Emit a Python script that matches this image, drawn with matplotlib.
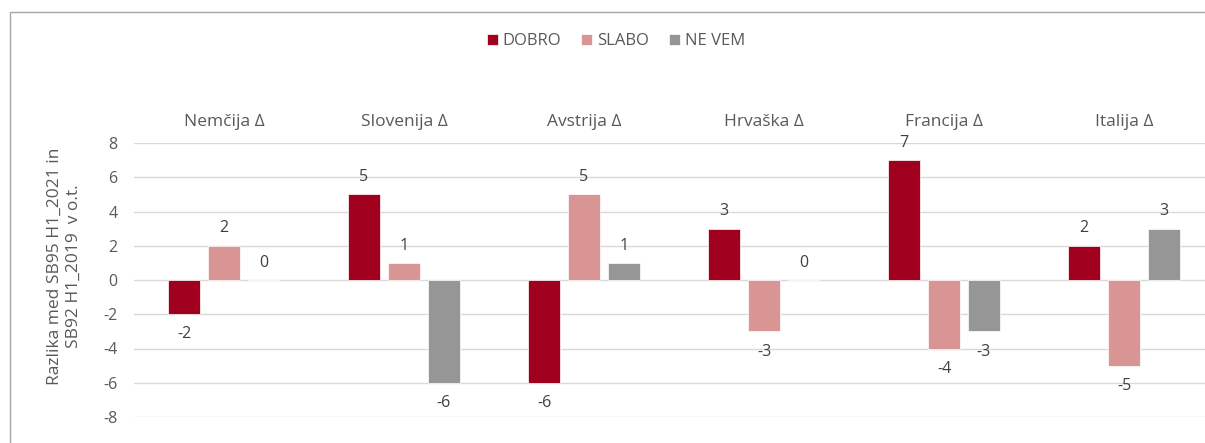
import matplotlib
matplotlib.use("Agg")
import matplotlib.pyplot as plt
from matplotlib.patches import Rectangle
import numpy as np

plt.rcParams['font.family'] = ['Open Sans', 'DejaVu Sans']

categories = ["Nemčija Δ", "Slovenija Δ", "Avstrija Δ", "Hrvaška Δ", "Francija Δ", "Italija Δ"]
series_names = ["DOBRO", "SLABO", "NE VEM"]
dobro = [-2, 5, -6, 3, 7, 2]
slabo = [2, 1, 5, -3, -4, -5]
ne_vem = [0, -6, 1, 0, -3, 3]
colors = ["#A0001E", "#D99594", "#969696"]
y_ticks = [-8, -6, -4, -2, 0, 2, 4, 6, 8]
y_label = "Razlika med SB95 H1_2021 in\nSB92 H1_2019  v o.t."

W, H = 1205, 443
fig = plt.figure(figsize=(W / 100, H / 100), dpi=100)
ax_left, ax_right = 134, 1214
ax_top, ax_bottom = 143, 417
ax = fig.add_axes([ax_left / W, 1 - ax_bottom / H, (ax_right - ax_left) / W, (ax_bottom - ax_top) / H])

x = np.arange(len(categories))
step = 0.222
width = 0.178
data = [dobro, slabo, ne_vem]
for i, (vals, name, col) in enumerate(zip(data, series_names, colors)):
    xs = x + (i - 1) * step
    ax.bar(xs, vals, width=width, color=col, edgecolor="white", linewidth=0.5, label=name, zorder=3)
    for xi, v in zip(xs, vals):
        if v >= 0:
            ax.annotate(f"{v}", (xi, v), xytext=(0, 12.5), textcoords="offset points",
                        ha="center", va="center", fontsize=11.5, color="#404040")
        else:
            ax.annotate(f"{v}", (xi, v), xytext=(0, -14.5), textcoords="offset points",
                        ha="center", va="center", fontsize=11.5, color="#404040")

ax.set_xlim(-0.5, len(categories) - 0.5)
ax.set_ylim(-8, 8)
ax.set_yticks(y_ticks)
ax.set_yticklabels([str(t) for t in y_ticks])
ax.yaxis.grid(True, color="#D9D9D9", linewidth=1.0, zorder=0)
ax.set_axisbelow(True)
for s in ax.spines.values():
    s.set_visible(False)
ax.tick_params(axis="y", length=0, pad=12, labelsize=11.5, labelcolor="#595959")
ax.xaxis.tick_top()
ax.set_xticks(x)
ax.set_xticklabels(categories)
ax.tick_params(axis="x", length=0, pad=9.5, labelsize=12.5, labelcolor="#595959")

fig.text(64 / W, 1 - 266 / H, y_label, rotation=90, ha="center", va="center",
         fontsize=12.5, color="#595959", linespacing=1.25)

handles, labels = ax.get_legend_handles_labels()
leg = fig.legend(handles, labels, loc="center", bbox_to_anchor=(616 / W, 1 - 41 / H), ncol=3,
                 frameon=False, fontsize=12, handlelength=0.65, handleheight=0.65,
                 handletextpad=0.3, columnspacing=1.2, labelcolor="#595959")

fig.add_artist(Rectangle((10 / W, -0.5), 2.0, 0.5 + (1 - 12 / H), transform=fig.transFigure,
                         fill=False, edgecolor="#A6A6A6", linewidth=1.0))

fig.savefig("out.png", dpi=100)
